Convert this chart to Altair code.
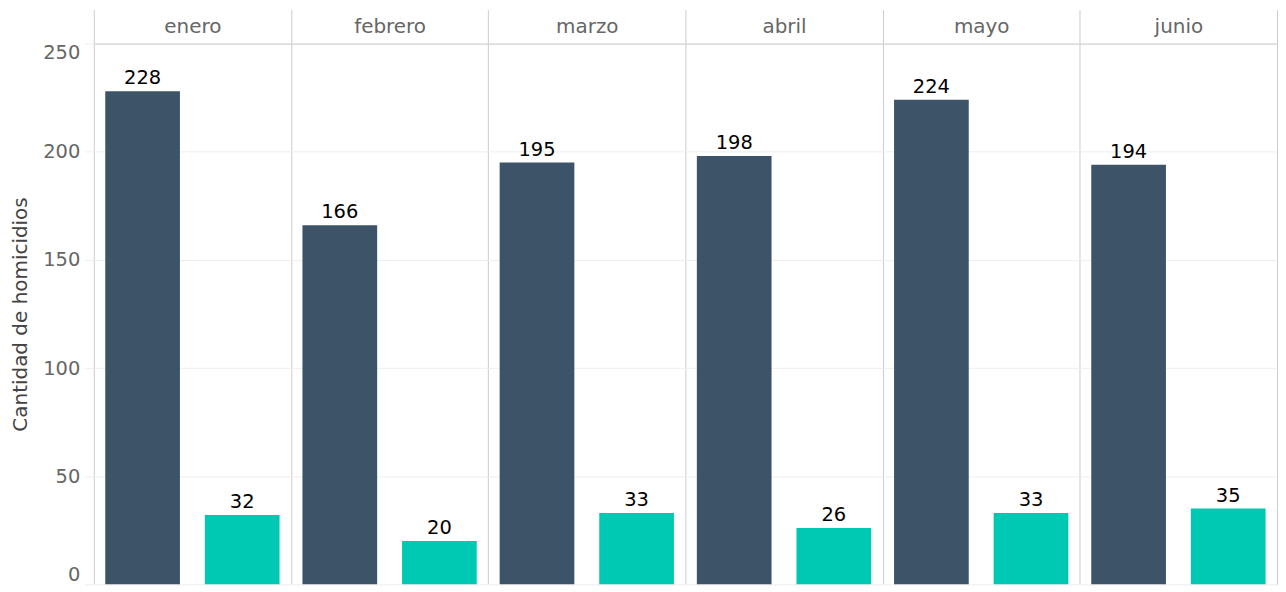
import altair as alt
import pandas as pd

meses = ["enero", "febrero", "marzo", "abril", "mayo", "junio"]
serie_1 = [228, 166, 195, 198, 224, 194]
serie_2 = [32, 20, 33, 26, 33, 35]
series = ["serie 1", "serie 2"]
colores = ["#3d5468", "#00c9b3"]
y_ticks = [0, 50, 100, 150, 200, 250]

rows = []
for m, a, b in zip(meses, serie_1, serie_2):
    rows.append({"mes": m, "serie": series[0], "valor": a})
    rows.append({"mes": m, "serie": series[1], "valor": b})
df = pd.DataFrame(rows)

x_enc = alt.X(
    "mes:N",
    sort=meses,
    title=None,
    scale=alt.Scale(paddingInner=0, paddingOuter=0),
    axis=alt.Axis(
        orient="top",
        tickBand="extent",
        grid=True,
        gridColor="#cccccc",
        tickColor="#cccccc",
        domainColor="#cccccc",
        tickSize=34,
        labelBaseline="middle",
        labelPadding=-17,
        labelFontSize=20,
        labelColor="#666666",
        labelAngle=0,
    ),
)
xoff = alt.XOffset(
    "serie:N", sort=series, scale=alt.Scale(paddingInner=0.25, paddingOuter=0.115)
)
y_enc = alt.Y(
    "valor:Q",
    title="Cantidad de homicidios",
    scale=alt.Scale(domain=[0, 250], nice=False),
    axis=alt.Axis(
        values=y_ticks,
        domain=False,
        gridColor="#eeeeee",
        tickColor="#eeeeee",
        tickSize=9,
        labelPadding=5,
        labelFontSize=19.5,
        labelColor="#666666",
        labelFlush=True,
        titleFontSize=20,
        titleFontWeight="normal",
        titleColor="#444444",
        titlePadding=12,
    ),
)

bars = alt.Chart(df).mark_bar().encode(
    x=x_enc,
    xOffset=xoff,
    y=y_enc,
    color=alt.Color(
        "serie:N", scale=alt.Scale(domain=series, range=colores), legend=None
    ),
)
labels = alt.Chart(df).mark_text(
    baseline="alphabetic", dy=-7, fontSize=19.5, color="black"
).encode(
    x=alt.X("mes:N", sort=meses),
    xOffset=alt.XOffset("serie:N", sort=series),
    y=alt.Y("valor:Q"),
    text=alt.Text("valor:Q"),
)

chart = (
    alt.layer(bars, labels)
    .properties(
        width=1186,
        height=542,
        padding={"left": 2, "top": 0, "right": 0, "bottom": 0},
    )
    .configure(font="DejaVu Sans")
    .configure_view(strokeWidth=0)
)

chart.save("out.html", embed_options={"renderer": "svg", "actions": False})
